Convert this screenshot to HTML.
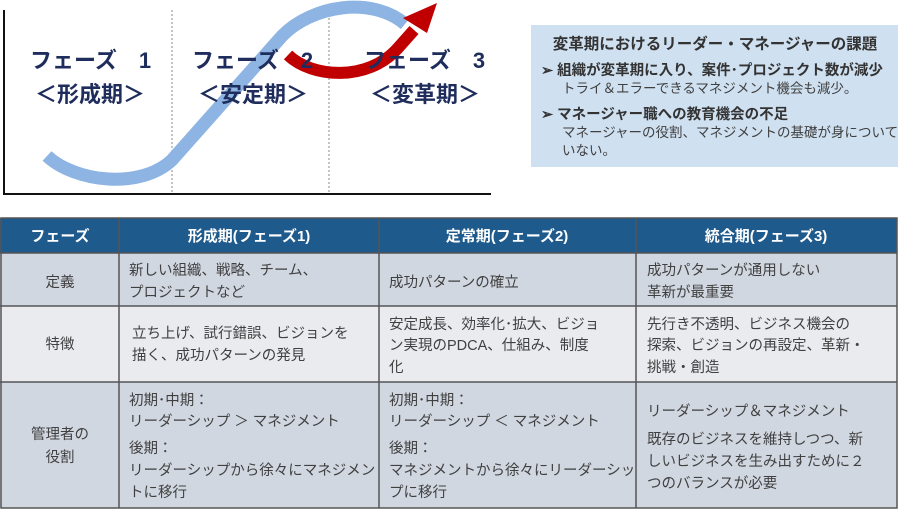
<!DOCTYPE html>
<html><head><meta charset="utf-8"><style>
html,body{margin:0;padding:0;background:#fff;}
svg{display:block;font-family:"Liberation Sans","Noto Sans CJK JP",sans-serif;}
.ph{font-size:22px;font-weight:bold;fill:#1f2d5c;}
.t{font-size:14.5px;fill:#404040;}
.b{font-size:14.5px;fill:#333;font-weight:bold;}
.h{font-size:15px;fill:#fff;font-weight:bold;}
</style></head><body>
<svg width="900" height="511" viewBox="0 0 900 511" xmlns="http://www.w3.org/2000/svg">
<!-- axes -->
<line x1="4" y1="10" x2="4" y2="195" stroke="#111" stroke-width="2"/>
<line x1="3" y1="194" x2="491" y2="194" stroke="#111" stroke-width="2"/>
<line x1="172" y1="10" x2="172" y2="193" stroke="#888" stroke-width="1" stroke-dasharray="2,2"/>
<line x1="329" y1="10" x2="329" y2="193" stroke="#888" stroke-width="1" stroke-dasharray="2,2"/>
<!-- blue curve -->
<path d="M47,156 C75,182 140,190 172,160 L282,36 C312,5 372,-4 405,24" fill="none" stroke="#8db4e2" stroke-width="13"/>
<!-- red arrow -->
<path d="M288,55 C312,78 368,82 398,48 L414,30" fill="none" stroke="#c00000" stroke-width="12"/>
<polygon points="403,18 437,3 427,33" fill="#c00000"/>
<!-- phase labels -->
<text class="ph" x="30" y="68">フェーズ　1</text>
<text class="ph" x="35" y="102">＜形成期＞</text>
<text class="ph" x="192" y="68">フェーズ　2</text>
<text class="ph" x="198" y="102">＜安定期＞</text>
<text class="ph" x="364" y="68">フェーズ　3</text>
<text class="ph" x="370" y="102">＜変革期＞</text>
<!-- right box -->
<rect x="531" y="25" width="367" height="142" fill="#cfe0f1"/>
<text x="715" y="49" text-anchor="middle" style="font-size:15.5px;font-weight:bold;fill:#333">変革期におけるリーダー・マネージャーの課題</text>
<text class="b" x="541" y="75">➢ 組織が変革期に入り、案件･プロジェクト数が減少</text>
<text class="t" x="562" y="93" style="font-size:13.5px">トライ＆エラーできるマネジメント機会も減少。</text>
<text class="b" x="541" y="119">➢ マネージャー職への教育機会の不足</text>
<text class="t" x="562" y="137" style="font-size:13.5px">マネージャーの役割、マネジメントの基礎が身について</text>
<text class="t" x="562" y="155" style="font-size:13.5px">いない。</text>
<!-- table -->
<rect x="0" y="218" width="897" height="35" fill="#1f5a8c"/>
<rect x="0" y="253" width="897" height="53" fill="#d1d7e1"/>
<rect x="0" y="306" width="897" height="76" fill="#e9ebef"/>
<rect x="0" y="382" width="897" height="126" fill="#d1d7e1"/>
<g stroke="#555" stroke-width="1.5" fill="none">
<rect x="1" y="218" width="896" height="290"/>
<line x1="0" y1="253" x2="897" y2="253"/>
<line x1="0" y1="306" x2="897" y2="306"/>
<line x1="0" y1="382" x2="897" y2="382"/>
<line x1="119" y1="218" x2="119" y2="508"/>
<line x1="379" y1="218" x2="379" y2="508"/>
<line x1="636" y1="218" x2="636" y2="508"/>
</g>
<text class="h" x="60" y="241" text-anchor="middle">フェーズ</text>
<text class="h" x="249" y="241" text-anchor="middle">形成期(フェーズ1)</text>
<text class="h" x="507" y="241" text-anchor="middle">定常期(フェーズ2)</text>
<text class="h" x="766" y="241" text-anchor="middle">統合期(フェーズ3)</text>
<!-- row 1 -->
<text class="t" x="60" y="287" text-anchor="middle">定義</text>
<text class="t" x="129" y="275">新しい組織、戦略、チーム、</text>
<text class="t" x="129" y="297">プロジェクトなど</text>
<text class="t" x="389" y="287">成功パターンの確立</text>
<text class="t" x="647" y="275">成功パターンが通用しない</text>
<text class="t" x="647" y="297"> 革新が最重要</text>
<!-- row 2 -->
<text class="t" x="60" y="349" text-anchor="middle">特徴</text>
<text class="t" x="132" y="338">立ち上げ、試行錯誤、ビジョンを</text>
<text class="t" x="132" y="360">描く、成功パターンの発見</text>
<text class="t" x="389" y="329">安定成長、効率化･拡大、ビジョ</text>
<text class="t" x="389" y="350">ン実現のPDCA、仕組み、制度</text>
<text class="t" x="389" y="372">化</text>
<text class="t" x="647" y="329">先行き不透明、ビジネス機会の</text>
<text class="t" x="647" y="350">探索、ビジョンの再設定、革新・</text>
<text class="t" x="647" y="372">挑戦・創造</text>
<!-- row 3 -->
<text class="t" x="60" y="439" text-anchor="middle">管理者の</text>
<text class="t" x="60" y="462" text-anchor="middle">役割</text>
<text class="t" x="129" y="405">初期･中期：</text>
<text class="t" x="129" y="426">リーダーシップ ＞ マネジメント</text>
<text class="t" x="129" y="453">後期：</text>
<text class="t" x="129" y="475">リーダーシップから徐々にマネジメン</text>
<text class="t" x="129" y="497">トに移行</text>
<text class="t" x="389" y="405">初期･中期：</text>
<text class="t" x="389" y="426">リーダーシップ ＜ マネジメント</text>
<text class="t" x="389" y="453">後期：</text>
<text class="t" x="389" y="475">マネジメントから徐々にリーダーシッ</text>
<text class="t" x="389" y="497">プに移行</text>
<text class="t" x="647" y="416">リーダーシップ＆マネジメント</text>
<text class="t" x="647" y="444">既存のビジネスを維持しつつ、新</text>
<text class="t" x="647" y="466">しいビジネスを生み出すために２</text>
<text class="t" x="647" y="488">つのバランスが必要</text>
</svg>
</body></html>
